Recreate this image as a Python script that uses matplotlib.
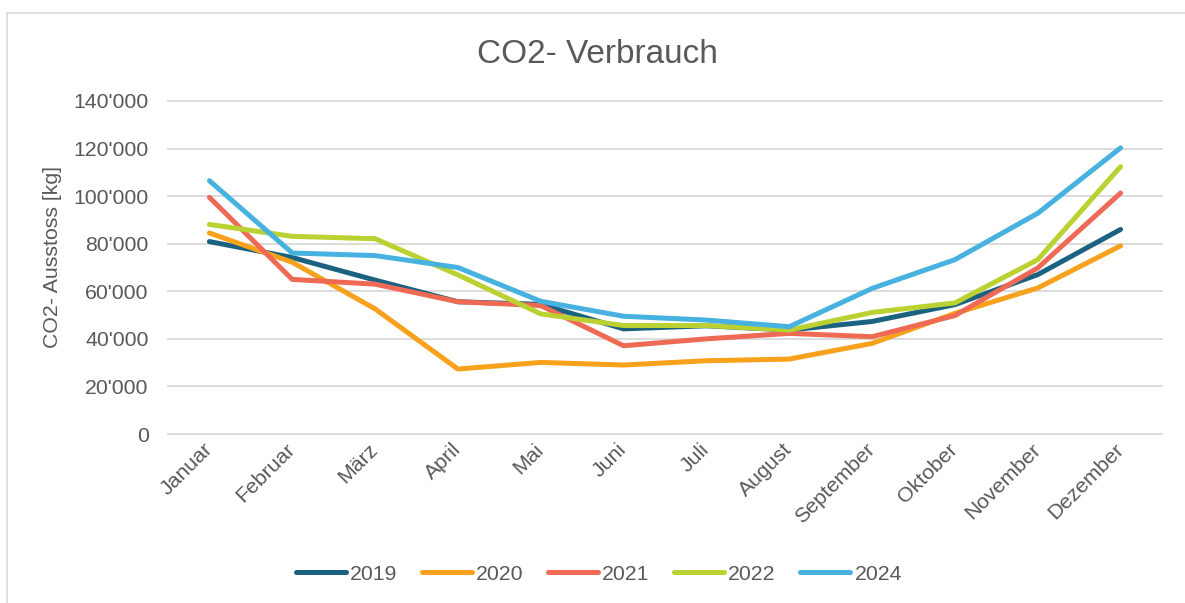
import matplotlib
matplotlib.use("Agg")
import matplotlib.pyplot as plt
from matplotlib.ticker import FuncFormatter, MultipleLocator
from matplotlib.patches import Rectangle

months = ["Januar", "Februar", "März", "April", "Mai", "Juni", "Juli",
          "August", "September", "Oktober", "November", "Dezember"]
years = ["2019", "2020", "2021", "2022", "2024"]

v2019 = [80900, 74200, 64700, 55600, 54500, 44200, 45500, 43700, 47300, 54400, 67000, 86000]
v2020 = [84500, 72200, 52600, 27300, 30100, 29000, 30800, 31500, 38100, 50700, 61400, 79100]
v2021 = [99500, 65000, 63000, 55600, 54000, 37100, 40000, 42300, 40900, 49800, 69800, 101300]
v2022 = [88100, 83100, 82100, 66900, 50500, 45600, 45600, 43700, 51100, 55100, 73300, 112400]
v2024 = [106500, 76100, 75000, 70000, 55800, 49500, 47900, 45100, 61200, 73300, 92800, 120300]

series = [v2019, v2020, v2021, v2022, v2024]
colors = ["#1B6180", "#F8A11C", "#EE6A55", "#BAD131", "#47B2E0"]

TXT = "#595959"
GRID = "#D9D9D9"
FS = 15.3

plt.rcParams['font.family'] = ['Liberation Sans', 'DejaVu Sans']

W, H = 1185, 603
fig = plt.figure(figsize=(W / 100, H / 100), dpi=100)
fig.patch.set_facecolor("white")

# chart area border (only top and left visible)
fig.add_artist(Rectangle((6.5 / W, -0.2), 1.5, 1 - 12.7 / H + 0.2,
                         transform=fig.transFigure, fill=False,
                         edgecolor=GRID, lw=1.2))

ax = fig.add_axes([168 / W, 1 - 434 / H, (1162 - 168) / W, (434 - 101) / H])
x = list(range(len(months)))
for vals, col, yr in zip(series, colors, years):
    ax.plot(x, vals, color=col, lw=3.6, solid_capstyle='round',
            solid_joinstyle='round', label=yr, zorder=3)

ax.set_xlim(-0.5, 11.5)
ax.set_ylim(0, 140000)
ax.yaxis.set_major_locator(MultipleLocator(20000))
ax.yaxis.set_major_formatter(FuncFormatter(lambda v, p: f"{int(v):,}".replace(",", "'")))
ax.grid(axis='y', color=GRID, lw=1.3)
for gl in ax.get_ygridlines():
    gl.set_clip_on(False)
ax.set_axisbelow(True)
for s in ax.spines.values():
    s.set_visible(False)

ax.set_xticks(x)
ax.set_xticklabels(months, rotation=45, ha='right', va='center',
                   rotation_mode='anchor', fontsize=FS, color=TXT)
ax.tick_params(axis='x', length=0, pad=9)
ax.tick_params(axis='y', length=0, pad=14, labelsize=FS, labelcolor=TXT)

ax.set_ylabel("CO2- Ausstoss [kg]", fontsize=FS, color=TXT, va='center')
ax.yaxis.set_label_coords((53 - 168) / (1162 - 168), (434 - 256.5) / (434 - 101))

fig.text(597 / W, 1 - 63 / H, "CO2- Verbrauch", ha='center', va='baseline',
         fontsize=24, color=TXT)

leg = fig.legend(loc='center', bbox_to_anchor=(599 / W, 1 - 574 / H), ncol=5,
                 frameon=False, fontsize=FS, handlelength=2.35,
                 handletextpad=0.2, columnspacing=1.15)
for t in leg.get_texts():
    t.set_color(TXT)
for l in leg.get_lines():
    l.set_linewidth(3.6)
    l.set_solid_capstyle('round')

fig.savefig("out.png", dpi=100, facecolor="white")
